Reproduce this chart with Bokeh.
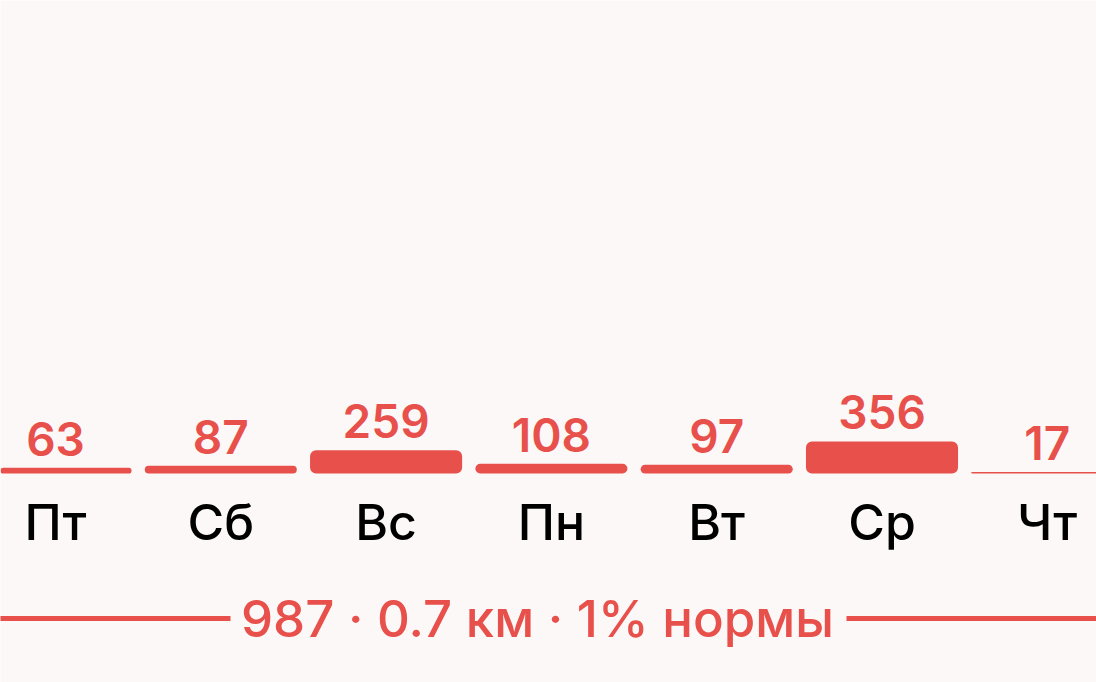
from bokeh.plotting import figure
from bokeh.models import ColumnDataSource
from bokeh.core.properties import value
from bokeh.embed import file_html
from bokeh.resources import INLINE

days = ["Пт", "Сб", "Вс", "Пн", "Вт", "Ср", "Чт"]
steps = [63, 87, 259, 108, 97, 356, 17]
summary = "987 · 0.7 км · 1% нормы"

RED = "#E8504B"
BG = "#FDF8F8"

W, H = 1096, 682
PX_PER_STEP = 0.09          # vertical scale (pixels per step)
BASE_PY = 473               # baseline position from top, in pixels
SLOT_PX = 165.3             # horizontal pixels per day
FIRST_CENTER_PX = 55        # centre of first slot from left edge
BL_FIX = 19                 # svg alphabetic-baseline correction

x_start = -FIRST_CENTER_PX / SLOT_PX
x_end = (W - FIRST_CENTER_PX) / SLOT_PX
y_end = BASE_PY / PX_PER_STEP
y_start = -(H - BASE_PY) / PX_PER_STEP

p = figure(width=W, height=H, x_range=(x_start, x_end), y_range=(y_start, y_end),
           output_backend="svg", toolbar_location=None, min_border=0)
p.axis.visible = False
p.grid.visible = False
p.outline_line_color = None
p.background_fill_color = BG
p.border_fill_color = BG

src = ColumnDataSource(dict(x=list(range(len(days))), day=days, steps=steps,
                            lab=[str(s) for s in steps]))

p.vbar(x="x", top="steps", bottom=0, width=0.92, source=src,
       fill_color=RED, line_color=None, border_radius=6)

p.text(x="x", y="steps", text="lab", source=src, text_color=RED,
       text_font=value("Inter SemiBold"), text_font_size="46px",
       text_align="center", text_baseline="alphabetic", y_offset=-10 - BL_FIX)

p.text(x="x", y=0, text="day", source=src, text_color="#000000",
       text_font=value("Inter Medium"), text_font_size="50px",
       text_align="center", text_baseline="alphabetic", y_offset=67 - BL_FIX)

# summary line with text
mid_x = (537 - FIRST_CENTER_PX) / SLOT_PX
p.text(x=[mid_x], y=[0], text=[summary], text_color=RED,
       text_font=value("Inter Medium"), text_font_size="51px",
       text_align="center", text_baseline="alphabetic", y_offset=164 - BL_FIX)
line_y = -145 / PX_PER_STEP
left_end = (230 - FIRST_CENTER_PX) / SLOT_PX
right_start = (846 - FIRST_CENTER_PX) / SLOT_PX
p.segment(x0=[x_start - 1, right_start], x1=[left_end, x_end + 1],
          y0=[line_y, line_y], y1=[line_y, line_y], line_color=RED, line_width=5)

open("out.html", "w").write(file_html(p, INLINE))
